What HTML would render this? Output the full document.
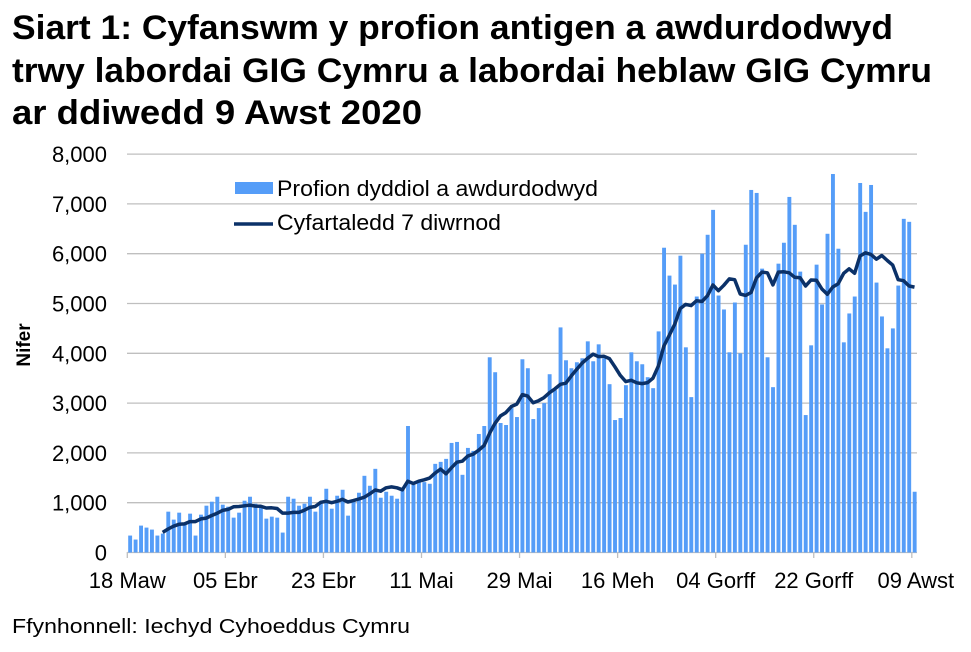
<!DOCTYPE html>
<html><head><meta charset="utf-8"><style>
body{margin:0;background:#fff;width:971px;height:647px;overflow:hidden;font-family:"Liberation Sans",Arial,sans-serif}
</style></head><body>
<svg id="c" width="971" height="647" xmlns="http://www.w3.org/2000/svg" font-family="Liberation Sans, Arial, sans-serif">
<text x="12" y="39" font-size="34" font-weight="bold" textLength="881" lengthAdjust="spacingAndGlyphs">Siart 1: Cyfanswm y profion antigen a awdurdodwyd</text>
<text x="12" y="82" font-size="34" font-weight="bold" textLength="920" lengthAdjust="spacingAndGlyphs">trwy labordai GIG Cymru a labordai heblaw GIG Cymru</text>
<text x="12" y="124" font-size="34" font-weight="bold" textLength="410" lengthAdjust="spacingAndGlyphs">ar ddiwedd 9 Awst 2020</text>
<text x="12" y="633" font-size="20" textLength="398" lengthAdjust="spacingAndGlyphs">Ffynhonnell: Iechyd Cyhoeddus Cymru</text>
<text transform="translate(30,345) rotate(-90)" text-anchor="middle" font-size="19" font-weight="bold">Nifer</text>
<g id="g"></g>
<rect x="235" y="182" width="38" height="12" fill="#559df8"/>
<text x="277" y="196" font-size="22" textLength="321" lengthAdjust="spacingAndGlyphs">Profion dyddiol a awdurdodwyd</text>
<line x1="234" y1="224" x2="273" y2="224" stroke="#0b3168" stroke-width="3.5"/>
<text x="277" y="230" font-size="22" textLength="224" lengthAdjust="spacingAndGlyphs">Cyfartaledd 7 diwrnod</text>
</svg>
<script>
var d=[340,260,540,500,460,340,380,820,660,800,560,780,340,760,940,1020,1120,960,920,700,800,1040,1120,980,940,680,720,700,400,1120,1080,940,980,1120,820,980,1280,880,1140,1260,740,1020,1200,1540,1340,1680,1100,1220,1140,1080,1260,2540,
1360,1427,1413,1380,1780,1820,1880,2200,2220,1560,2100,2040,2380,2540,3920,3620,2600,2560,2900,2720,3880,3700,2680,2900,3000,3580,3260,4520,3860,3700,3820,3900,4240,3840,4180,3900,3380,2660,2700,3360,4020,3840,3780,3520,3300,4440,
6120,5560,5380,5960,4120,3120,5140,6000,6380,6880,5160,4880,4020,5020,4000,6180,7280,7220,5700,3920,3320,5800,6220,7140,6580,5640,2760,4160,5780,4980,6400,7600,6100,4220,4800,5140,7420,6840,7380,5420,4740,4100,4500,5360,6700,6640,1220];
var s='',y0=552.5,k=0.0498,L=127.3,w=5.448;
for(var i=0;i<=8;i++){var y=y0-i*1000*k;s+='<line x1="127" x2="917" y1="'+y+'" y2="'+y+'" stroke="#bfbfbf" stroke-width="1.3"/>';
s+='<text x="107" y="'+(y+8)+'" font-size="22" text-anchor="end">'+(i==0?'0':i+',000')+'</text>';}
var labs=['18 Maw','05 Ebr','23 Ebr','11 Mai','29 Mai','16 Meh','04 Gorff','22 Gorff','09 Awst'];
for(var j=0;j<9;j++){var x=L+j*18*w;s+='<line x1="'+x+'" x2="'+x+'" y1="552" y2="558" stroke="#bfbfbf" stroke-width="1.3"/>';
s+='<text x="'+(j==8?x+4:x)+'" y="588" font-size="22" text-anchor="middle">'+labs[j]+'</text>';}
for(var i=0;i<d.length;i++){var h=d[i]*k;s+='<rect x="'+(L+i*w+0.9)+'" y="'+(y0-h)+'" width="3.9" height="'+h+'" fill="#559df8"/>';}
var p=[];
for(var i=6;i<d.length;i++){var a=0;for(var m=0;m<7;m++)a+=d[i-m];a/=7;if(i==d.length-1)a=5330;p.push((L+i*w+2.7).toFixed(1)+','+(y0-a*k).toFixed(1));}
s+='<polyline points="'+p.join(' ')+'" fill="none" stroke="#0b3168" stroke-width="3.5" stroke-linejoin="round"/>';
document.getElementById('g').innerHTML=s;
</script>
</body></html>
